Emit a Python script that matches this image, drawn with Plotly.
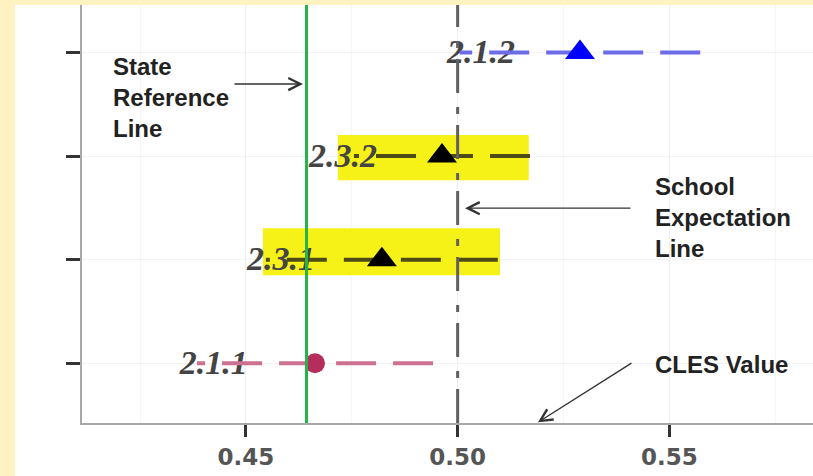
import plotly.graph_objects as go

# ---------------- data ----------------
categories = ["2.1.1", "2.3.1", "2.3.2", "2.1.2"]
cles_values = [0.4663, 0.4821, 0.4963, 0.5289]
ci_lower = [0.4384, 0.4547, 0.4755, 0.5005]
ci_upper = [0.4942, 0.5095, 0.5171, 0.5573]
label_x = [0.4424, 0.4583, 0.4729, 0.5055]

state_reference = 0.4643
school_expectation = 0.50

x_ticks = [0.45, 0.50, 0.55]
x_tick_labels = ["0.45", "0.50", "0.55"]
x_minor = [0.425, 0.475, 0.525, 0.575]

highlighted = ["2.3.1", "2.3.2"]
highlight_x0 = [0.4540, 0.4717]
highlight_x1 = [0.5100, 0.5168]
highlight_y0 = [0.850, 1.768]
highlight_y1 = [1.304, 2.203]

# ---------------- styles ----------------
marker_symbols = ["circle", "triangle-up", "triangle-up", "triangle-up"]
marker_sizes = [20, 26, 26, 26]
marker_colors = ["#b52d5c", "#000000", "#000000", "#0000ff"]
line_colors = ["#cc7290", "#4e4b16", "#4e4b16", "#6c6ce8"]

x_range = [0.41126, 0.58395]
y_range = [-0.577, 3.459]

fig = go.Figure()

# white panel inside the yellow frame
fig.add_shape(type="rect", xref="paper", yref="paper",
              x0=-0.0917, x1=1.0, y0=-0.1276, y1=1.0,
              fillcolor="white", line_width=0, layer="below")

# highlighter marks
for i, cat in enumerate(highlighted):
    fig.add_shape(type="rect", xref="x", yref="y",
                  x0=highlight_x0[i], x1=highlight_x1[i],
                  y0=highlight_y0[i], y1=highlight_y1[i],
                  fillcolor="#f6f218", line_width=0, layer="between")

for i, cat in enumerate(categories):
    fig.add_trace(go.Scatter(
        x=[label_x[i]], y=[i - 0.02], mode="text", text=[cat],
        textfont=dict(family="Liberation Serif", size=34, color="#444444",
                      style="italic", weight="bold"),
        showlegend=False, hoverinfo="skip"))
for i, cat in enumerate(categories):
    fig.add_trace(go.Scatter(
        x=[ci_upper[i], ci_lower[i]], y=[i, i], mode="lines",
        line=dict(color=line_colors[i], width=4, dash="40px,17px"),
        showlegend=False, hoverinfo="skip"))
    fig.add_trace(go.Scatter(
        x=[cles_values[i]], y=[i], mode="markers",
        marker=dict(symbol=marker_symbols[i], size=marker_sizes[i],
                    color=marker_colors[i], line_width=0),
        showlegend=False))

fig.add_vline(x=state_reference, line=dict(color="#27b24a", width=3))
fig.add_vline(x=school_expectation,
              line=dict(color="#606060", width=3, dash="34px,11px,7px,14px"))

note_font = dict(family="Liberation Sans", size=24, color="#222222", weight="bold")
fig.add_annotation(x=0.4181, y=2.570, xref="x", yref="y", text="State<br>Reference<br>Line",
                   showarrow=False, xanchor="left", yanchor="middle", align="left", font=note_font)
fig.add_annotation(x=0.54615, y=1.4106, xref="x", yref="y", text="School<br>Expectation<br>Line",
                   showarrow=False, xanchor="left", yanchor="middle", align="left", font=note_font)
fig.add_annotation(x=0.54615, y=-0.0097, xref="x", yref="y", text="CLES Value",
                   showarrow=False, xanchor="left", yanchor="middle", align="left", font=note_font)

arrow_style = dict(showarrow=True, arrowhead=5, arrowsize=1.7, arrowwidth=1.4,
                   arrowcolor="#333333", text="", xref="x", yref="y", axref="x", ayref="y")
fig.add_annotation(x=0.46347, y=2.696, ax=0.44693, ay=2.696, **arrow_style)
fig.add_annotation(x=0.50174, y=1.4976, ax=0.54119, ay=1.4976, **arrow_style)
fig.add_annotation(x=0.51898, y=-0.570, ax=0.54142, ay=0.0097, **arrow_style)

fig.update_xaxes(range=x_range, tickvals=x_ticks, ticktext=x_tick_labels,
                 ticks="outside", ticklen=12, tickwidth=2.5, tickcolor="#333333",
                 showline=True, linecolor="#a8a8a8", linewidth=2,
                 showgrid=True, gridcolor="#efefef", gridwidth=1, zeroline=False,
                 minor=dict(tickvals=x_minor, showgrid=True, gridcolor="#f6f6f6", ticks=""),
                 tickfont=dict(family="DejaVu Sans", size=23, color="#555555", weight="bold"))
fig.update_yaxes(range=y_range, tickvals=[0, 1, 2, 3], showticklabels=False,
                 ticks="outside", ticklen=14, tickwidth=3, tickcolor="#333333",
                 showline=True, linecolor="#a8a8a8", linewidth=2,
                 showgrid=True, gridcolor="#f2f2f2", zeroline=False)

fig.update_layout(width=813, height=476,
                  margin=dict(l=82, r=0, t=5, b=53, pad=0),
                  paper_bgcolor="#fef2c0", plot_bgcolor="white",
                  showlegend=False)

fig.write_html("out.html", config={"displayModeBar": False},
               post_script="document.body.style.margin='0';document.body.style.overflow='hidden';")
